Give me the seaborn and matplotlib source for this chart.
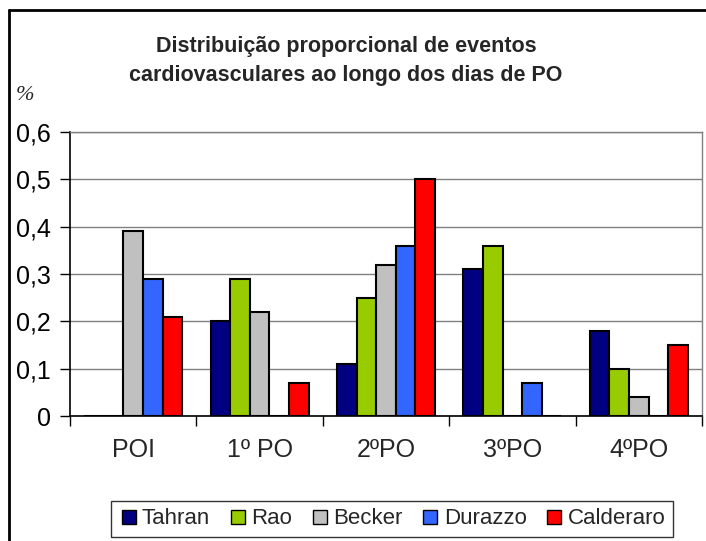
import matplotlib
matplotlib.use("Agg")
import matplotlib.pyplot as plt
import seaborn as sns
import pandas as pd
from matplotlib.ticker import FuncFormatter, FixedLocator
from matplotlib.lines import Line2D

categories = ["POI", "1º PO", "2ºPO", "3ºPO", "4ºPO"]
series = ["Tahran", "Rao", "Becker", "Durazzo", "Calderaro"]
tahran = [0, 0.20, 0.11, 0.31, 0.18]
rao = [0, 0.29, 0.25, 0.36, 0.10]
becker = [0.39, 0.22, 0.32, 0, 0.04]
durazzo = [0.29, 0, 0.36, 0.07, 0]
calderaro = [0.21, 0.07, 0.50, 0, 0.15]
colors = ["#000080", "#99CC00", "#C0C0C0", "#3366FF", "#FF0000"]

rows = []
for name, vals in zip(series, [tahran, rao, becker, durazzo, calderaro]):
    for cat, v in zip(categories, vals):
        rows.append({"dia": cat, "estudo": name, "valor": v})
df = pd.DataFrame(rows)

sns.set_style("white")
plt.rcParams['font.family'] = ['Liberation Sans', 'DejaVu Sans']

fig = plt.figure(figsize=(7.06, 5.41), dpi=100)
ax = fig.add_axes([70 / 706, 1 - 416 / 541, 632 / 706, 284 / 541])

sns.barplot(data=df, x="dia", y="valor", hue="estudo", order=categories,
            hue_order=series, palette=colors, width=0.775, errorbar=None,
            edgecolor="black", linewidth=1.5, saturation=1, ax=ax, zorder=3)

ax.set_ylim(0, 0.6)
ax.set_xlim(-0.5, 4.5)
ax.set_yticks([0, 0.1, 0.2, 0.3, 0.4, 0.5, 0.6])
ax.yaxis.set_major_formatter(FuncFormatter(lambda v, _: "0" if v == 0 else f"{v:.1f}".replace(".", ",")))
ax.grid(axis="y", color="#808080", linewidth=1, zorder=0)
ax.set_xlabel("")
ax.set_ylabel("")

for side in ["top", "right"]:
    ax.spines[side].set_color("#808080")
    ax.spines[side].set_linewidth(1)
for side in ["left", "bottom"]:
    ax.spines[side].set_color("black")
    ax.spines[side].set_linewidth(1.2)

ax.tick_params(axis="y", left=True, length=7, width=1, labelsize=18, pad=7, colors="black")
ax.tick_params(axis="x", bottom=False, labelsize=18, pad=12)
ax.xaxis.set_minor_locator(FixedLocator([-0.5, 0.5, 1.5, 2.5, 3.5, 4.5]))
ax.tick_params(axis="x", which="minor", bottom=True, length=7, width=1, color="black")

ax.legend_.remove()
handles = [Line2D([0], [0], marker="s", linestyle="none", markersize=10,
                  markerfacecolor=c, markeredgecolor="black", markeredgewidth=1)
           for c in colors]
leg = fig.legend(handles, series, loc="center", bbox_to_anchor=(392 / 706, 1 - 519 / 541),
                 ncol=5, fontsize=16, frameon=True, fancybox=False, edgecolor="black",
                 handletextpad=0.15, columnspacing=0.8, handlelength=0.9, borderpad=0.35)
leg.get_frame().set_linewidth(1)

fig.text(346 / 706, 1 - 61 / 541, "Distribuição proporcional de eventos\ncardiovasculares ao longo dos dias de PO",
         ha="center", va="center", fontsize=15.5, fontweight="bold", linespacing=1.45)
fig.text(25 / 706, 1 - 95 / 541, "%", ha="center", va="center", fontsize=16,
         style="italic", family=["Liberation Serif", "DejaVu Serif"])

fig.add_artist(Line2D([9 / 706, 9 / 706], [0, 1 - 10 / 541], transform=fig.transFigure, color="black", linewidth=2))
fig.add_artist(Line2D([9 / 706, 1], [1 - 10 / 541, 1 - 10 / 541], transform=fig.transFigure, color="black", linewidth=2))

fig.savefig("out.png", dpi=100)
